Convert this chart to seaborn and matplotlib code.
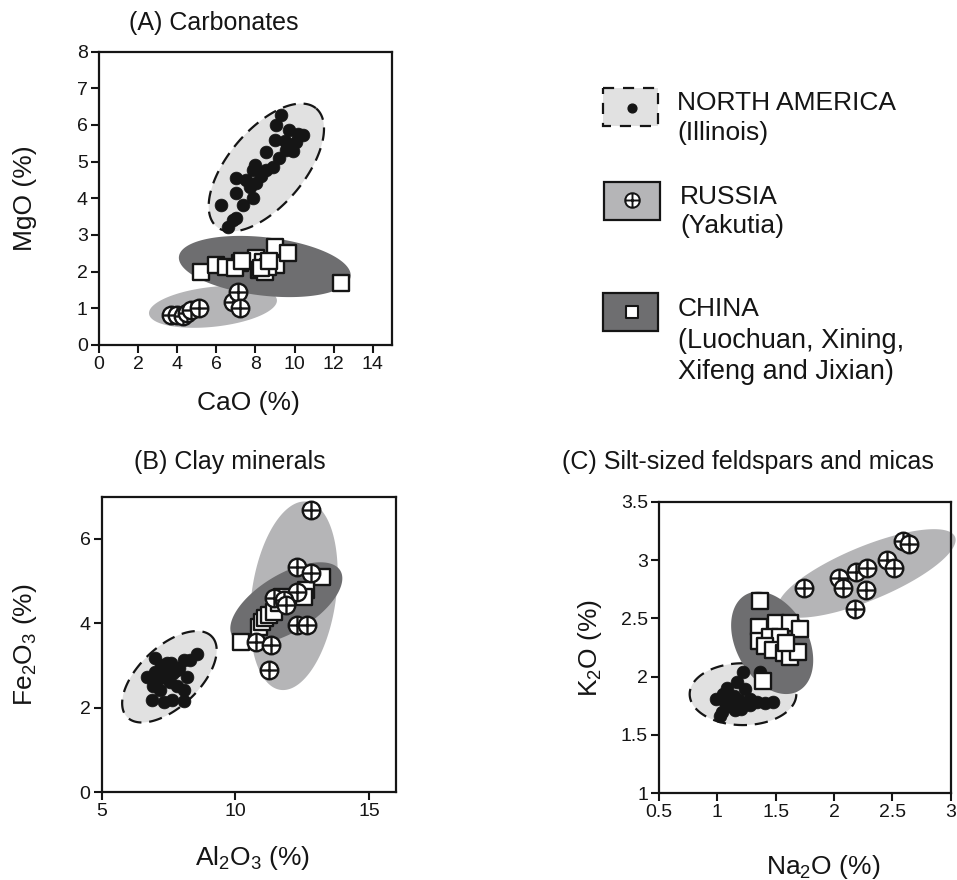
import numpy as np
import matplotlib
matplotlib.use('Agg')
import matplotlib.pyplot as plt
from matplotlib.path import Path
from matplotlib.patches import Rectangle
import seaborn as sns

# ---- (A) Carbonates: CaO vs MgO ----
A_NA_X = [9.32, 10.42, 9.07, 9.74, 10.09, 9.58, 8.98, 8.56, 8.88, 8.56, 7.86, 8.05, 7.54, 7.03,
          7.03, 7.87, 7.36, 6.26, 6.85, 6.6, 7.03, 9.5, 9.9, 8.3, 7.7, 9.2, 10.2, 8.0]
A_NA_Y = [6.27, 5.73, 6.0, 5.86, 5.54, 5.32, 5.59, 5.27, 4.86, 4.77, 4.77, 4.41, 4.5, 4.55,
          4.14, 4.0, 3.82, 3.82, 3.41, 3.23, 3.46, 5.55, 5.3, 4.6, 4.3, 5.1, 5.75, 4.9]
A_RU_X = [3.7, 4.0, 4.3, 4.5, 4.7, 5.1, 6.85, 7.1, 7.2]
A_RU_Y = [0.82, 0.82, 0.8, 0.86, 0.95, 1.0, 1.18, 1.45, 1.0]
A_CN_X = [5.24, 6.0, 6.52, 7.19, 6.94, 8.05, 8.38, 8.21, 8.47, 9.07, 8.98, 9.66, 8.64, 12.38, 7.3, 8.3, 8.7]
A_CN_Y = [2.0, 2.18, 2.14, 2.23, 2.09, 2.36, 2.27, 2.05, 2.0, 2.18, 2.68, 2.5, 2.14, 1.68, 2.3, 2.1, 2.3]
# ellipse: centre x, centre y, semi-axis 1 (dx, dy), semi-axis 2 (dx, dy)
A_NA_ELL = [8.56, 4.84, 2.55, 1.61, 1.48, -0.67]
A_RU_ELL = [5.83, 1.04, 3.27, 0.19, 0.11, -0.54]
A_CN_ELL = [8.48, 2.14, 4.39, -0.27, -0.17, -0.79]

# ---- (B) Clay minerals: Al2O3 vs Fe2O3 ----
B_NA_X = [8.56, 7.0, 7.44, 8.06, 8.31, 6.69, 7.06, 7.68, 8.19, 7.19, 7.81, 8.06, 6.87, 7.31,
          7.62, 8.06, 7.56, 7.81, 7.31, 6.93, 7.4, 7.9, 7.2, 7.6, 7.0]
B_NA_Y = [3.27, 3.17, 3.05, 3.13, 3.13, 2.73, 2.65, 2.81, 2.73, 2.42, 2.5, 2.42, 2.18, 2.14,
          2.18, 2.16, 2.61, 2.89, 2.85, 2.5, 2.7, 2.95, 3.0, 3.05, 2.85]
B_RU_X = [12.81, 12.29, 12.81, 12.31, 11.43, 11.81, 11.87, 12.31, 12.69, 10.75, 11.31, 11.27]
B_RU_Y = [6.68, 5.32, 5.18, 4.75, 4.59, 4.55, 4.43, 3.96, 3.96, 3.56, 3.48, 2.89]
B_CN_X = [10.19, 13.25, 12.62, 12.56, 10.87, 11.0, 11.12, 11.25, 11.43, 11.62, 11.75]
B_CN_Y = [3.56, 5.09, 4.79, 4.63, 3.92, 4.04, 4.12, 4.19, 4.27, 4.47, 4.63]
B_NA_ELL = [7.53, 2.73, 1.59, 0.95, 0.77, -0.52]
B_RU_ELL = [12.18, 4.65, 0.50, 2.23, 1.56, -0.14]
B_CN_ELL = [11.9, 4.47, 2.04, 0.75, 0.47, -0.62]

# ---- (C) Silt-sized feldspars and micas: Na2O vs K2O ----
C_NA_X = [1.22, 1.37, 1.08, 0.99, 1.07, 1.14, 1.24, 1.28, 1.34, 1.41, 1.48, 1.28, 1.04, 1.15,
          1.02, 1.19, 1.1, 1.2, 1.3, 1.05, 1.17]
C_NA_Y = [2.04, 2.04, 1.90, 1.81, 1.78, 1.83, 1.89, 1.81, 1.78, 1.77, 1.78, 1.76, 1.70, 1.71,
          1.66, 1.80, 1.75, 1.72, 1.78, 1.85, 1.95]
C_RU_X = [1.74, 2.04, 2.08, 2.19, 2.28, 2.27, 2.18, 2.45, 2.51, 2.59, 2.64]
C_RU_Y = [2.76, 2.85, 2.76, 2.90, 2.93, 2.74, 2.58, 3.0, 2.93, 3.16, 3.14]
C_CN_X = [1.37, 1.39, 1.36, 1.50, 1.62, 1.71, 1.36, 1.45, 1.54, 1.41, 1.48, 1.57, 1.62, 1.69, 1.59]
C_CN_Y = [2.65, 1.96, 2.43, 2.46, 2.46, 2.41, 2.31, 2.34, 2.34, 2.26, 2.23, 2.20, 2.17, 2.21, 2.29]
C_NA_ELL = [1.22, 1.85, 0.457, 0.0, 0.0, -0.265]
C_RU_ELL = [2.28, 2.885, 0.757, 0.314, 0.089, -0.213]
C_CN_ELL = [1.47, 2.29, -0.223, 0.414, 0.272, 0.146]

LIGHT = '#e1e1e1'
MID = '#b5b5b7'
DARK = '#6e6e70'
INK = '#151515'

sns.set_style('white')
plt.rcParams['font.family'] = ['Liberation Sans', 'DejaVu Sans']
plt.rcParams['mathtext.fontset'] = 'custom'
plt.rcParams['mathtext.rm'] = 'Liberation Sans'
plt.rcParams['mathtext.default'] = 'rm'
plt.rcParams['text.color'] = INK
plt.rcParams['axes.labelcolor'] = INK

crossed = Path.make_compound_path(
    Path.unit_circle(),
    Path([[-1, 0], [1, 0], [0, -1], [0, 1]], [Path.MOVETO, Path.LINETO, Path.MOVETO, Path.LINETO]))


def draw_ellipse(ax, ell, face, dashed=False, z=1):
    t = np.linspace(0, 2 * np.pi, 300)
    xs = ell[0] + ell[2] * np.cos(t) + ell[4] * np.sin(t)
    ys = ell[1] + ell[3] * np.cos(t) + ell[5] * np.sin(t)
    if dashed:
        ax.fill(xs, ys, facecolor=face, edgecolor=INK, lw=1.6, ls=(0, (6, 3.5)), zorder=z, clip_on=False)
    else:
        ax.fill(xs, ys, facecolor=face, edgecolor='none', zorder=z, clip_on=False)


def draw_points(ax, nx, ny, rx, ry, cx, cy):
    sns.scatterplot(x=nx, y=ny, ax=ax, marker='o', s=85, color=INK, edgecolor=INK,
                    linewidth=0.5, zorder=5, clip_on=False)
    sns.scatterplot(x=cx, y=cy, ax=ax, marker='s', s=125, color='white', edgecolor=INK,
                    linewidth=1.7, zorder=6, clip_on=False)
    sns.scatterplot(x=rx, y=ry, ax=ax, marker=crossed, s=160, color='white', edgecolor=INK,
                    linewidth=1.7, zorder=7, clip_on=False)


def style_axes(ax, xlim, ylim, xticks, yticks, xtl, ytl):
    ax.set_xlim(*xlim)
    ax.set_ylim(*ylim)
    ax.set_xticks(xticks)
    ax.set_yticks(yticks)
    ax.set_xticklabels(xtl)
    ax.set_yticklabels(ytl)
    for sp in ax.spines.values():
        sp.set_linewidth(1.6)
        sp.set_color(INK)
    ax.tick_params(direction='out', length=6, width=1.5, labelsize=14, pad=2,
                   bottom=True, left=True, colors=INK)
    ax.set_facecolor('white')


fig = plt.figure(figsize=(9.57, 8.8), dpi=100)

# legend drawn on a pixel-coordinate overlay
lax = fig.add_axes([0, 0, 1, 1])
lax.set_xlim(0, 957)
lax.set_ylim(880, 0)
lax.axis('off')

axA = fig.add_axes([0.1034, 0.6080, 0.3065, 0.3333])
axB = fig.add_axes([0.1063, 0.1000, 0.3075, 0.3357])
axC = fig.add_axes([0.6886, 0.0985, 0.3048, 0.3314])

draw_ellipse(axA, A_NA_ELL, LIGHT, dashed=True, z=1)
draw_ellipse(axA, A_RU_ELL, MID, z=2)
draw_ellipse(axA, A_CN_ELL, DARK, z=3)
draw_points(axA, A_NA_X, A_NA_Y, A_RU_X, A_RU_Y, A_CN_X, A_CN_Y)
style_axes(axA, (0, 15), (0, 8), range(0, 15, 2), range(0, 9),
           [str(v) for v in range(0, 15, 2)], [str(v) for v in range(0, 9)])
axA.set_xlabel('CaO (%)', fontsize=19, va='center')
axA.set_ylabel('MgO (%)', fontsize=19, va='center')
axA.xaxis.set_label_coords(0.508, -0.198)
axA.yaxis.set_label_coords(-0.252, 0.5)

draw_ellipse(axB, B_NA_ELL, LIGHT, dashed=True, z=1)
draw_ellipse(axB, B_RU_ELL, MID, z=2)
draw_ellipse(axB, B_CN_ELL, DARK, z=3)
draw_points(axB, B_NA_X, B_NA_Y, B_RU_X, B_RU_Y, B_CN_X, B_CN_Y)
style_axes(axB, (5, 16), (0, 7), [5, 10, 15], [0, 2, 4, 6],
           ['5', '10', '15'], ['0', '2', '4', '6'])
axB.set_xlabel('Al$_2$O$_3$ (%)', fontsize=19, va='center')
axB.set_ylabel('Fe$_2$O$_3$ (%)', fontsize=19, va='center')
axB.xaxis.set_label_coords(0.514, -0.223)
axB.yaxis.set_label_coords(-0.261, 0.5)

draw_ellipse(axC, C_NA_ELL, LIGHT, dashed=True, z=1)
draw_ellipse(axC, C_RU_ELL, MID, z=2)
draw_ellipse(axC, C_CN_ELL, DARK, z=3)
draw_points(axC, C_NA_X, C_NA_Y, C_RU_X, C_RU_Y, C_CN_X, C_CN_Y)
style_axes(axC, (0.5, 3), (1, 3.5), [0.5, 1, 1.5, 2, 2.5, 3], [1, 1.5, 2, 2.5, 3, 3.5],
           ['0.5', '1', '1.5', '2', '2.5', '3'], ['1', '1.5', '2', '2.5', '3', '3.5'])
axC.set_xlabel('Na$_2$O (%)', fontsize=19, va='center')
axC.set_ylabel('K$_2$O (%)', fontsize=19, va='center')
axC.xaxis.set_label_coords(0.562, -0.253)
axC.yaxis.set_label_coords(-0.237, 0.5)

# panel titles
lax.text(214, 23, '(A) Carbonates', fontsize=18, ha='center', va='center')
lax.text(230, 462, '(B) Clay minerals', fontsize=18, ha='center', va='center')
lax.text(748, 462, '(C) Silt-sized feldspars and micas', fontsize=18, ha='center', va='center')

# legend
lax.add_patch(Rectangle((603, 88), 55, 38, facecolor=LIGHT, edgecolor=INK, lw=1.6,
                        ls=(0, (5, 4))))
lax.add_patch(Rectangle((604, 182), 56, 38, facecolor=MID, edgecolor=INK, lw=1.6))
lax.add_patch(Rectangle((603, 293), 55, 38, facecolor=DARK, edgecolor=INK, lw=1.6))
lax.scatter([631.5], [108], marker='o', s=40, color=INK)
lax.scatter([632], [200], marker=crossed, s=110, facecolor='white', edgecolor=INK, linewidth=1.4)
lax.scatter([631.5], [312], marker='s', s=80, facecolor='white', edgecolor=INK, linewidth=1.5)
lax.text(677, 103, 'NORTH AMERICA', fontsize=19, va='center')
lax.text(677, 133, '(Illinois)', fontsize=19, va='center')
lax.text(680, 197.5, 'RUSSIA', fontsize=19, va='center')
lax.text(680, 226, '(Yakutia)', fontsize=19, va='center')
lax.text(678, 309, 'CHINA', fontsize=19, va='center')
lax.text(678, 341, '(Luochuan, Xining,', fontsize=19.5, va='center')
lax.text(678, 372, 'Xifeng and Jixian)', fontsize=19.5, va='center')

fig.savefig('out.png', dpi=100)
